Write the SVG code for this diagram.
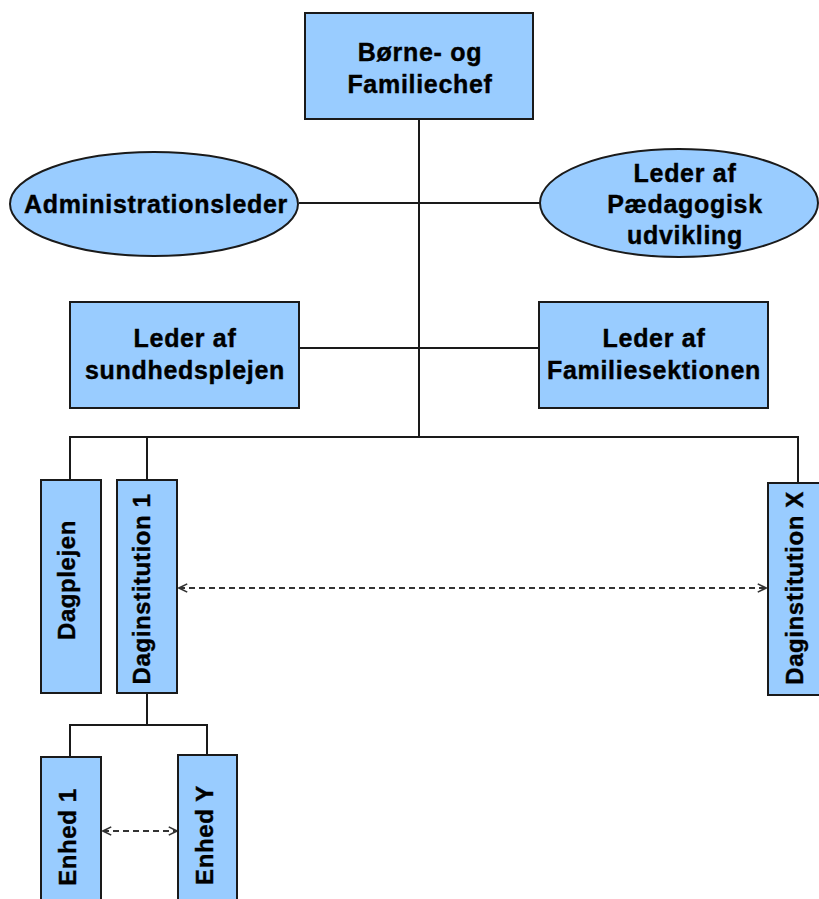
<svg xmlns="http://www.w3.org/2000/svg" width="819" height="899" viewBox="0 0 819 899">
<style>
.box{fill:#99CCFF;stroke:#1a1a1a;stroke-width:2}
.t{font-family:"Liberation Sans",Arial,sans-serif;font-weight:bold;font-size:25px;letter-spacing:0.7px;fill:#000;stroke:#000;stroke-width:0.4;text-anchor:middle}
.v{font-size:24px;letter-spacing:0.6px}
.ln{fill:none;stroke:#1a1a1a;stroke-width:2}
.dash{fill:none;stroke:#333;stroke-width:2;stroke-dasharray:6 4}
</style>
<defs>
<marker id="ah" viewBox="0 0 12 12" refX="11" refY="6" markerWidth="11" markerHeight="11" markerUnits="userSpaceOnUse" orient="auto-start-reverse">
<path d="M2,1.5 L11,6 L2,10.5" fill="none" stroke="#333" stroke-width="1.8"/>
</marker>
</defs>
<rect width="819" height="899" fill="#fff"/>
<g id="connectors">
<path class="ln" d="M419,119 V437"/>
<path class="ln" d="M299,203 H540"/>
<path class="ln" d="M299,348 H539"/>
<path class="ln" d="M70,480 V437 H798 V483"/>
<path class="ln" d="M147,437 V480"/>
<path class="ln" d="M147,693 V725"/>
<path class="ln" d="M70,757 V725 H207 V755"/>
<path class="dash" d="M179,588 H766" marker-start="url(#ah)" marker-end="url(#ah)"/>
<path class="dash" d="M103,831 H177" marker-start="url(#ah)" marker-end="url(#ah)"/>
</g>
<g id="chef">
<rect class="box" x="305" y="13" width="228" height="106"/>
<text class="t" x="420" y="61">Børne- og</text>
<text class="t" x="420" y="93">Familiechef</text>
</g>
<g id="admin">
<ellipse class="box" cx="154" cy="204" rx="144" ry="52"/>
<text class="t" x="156" y="213">Administrationsleder</text>
</g>
<g id="paedagogisk">
<ellipse class="box" cx="679" cy="203" rx="139" ry="54"/>
<text class="t" x="685" y="182">Leder af</text>
<text class="t" x="685" y="213">Pædagogisk</text>
<text class="t" x="685" y="244">udvikling</text>
</g>
<g id="sundhedsplejen">
<rect class="box" x="70" y="302" width="229" height="106"/>
<text class="t" x="185" y="347">Leder af</text>
<text class="t" x="185" y="379">sundhedsplejen</text>
</g>
<g id="familiesektionen">
<rect class="box" x="539" y="302" width="229" height="106"/>
<text class="t" x="654" y="347">Leder af</text>
<text class="t" x="654" y="379">Familiesektionen</text>
</g>
<g id="dagplejen">
<rect class="box" x="41" y="480" width="60" height="213"/>
<text class="t v" transform="translate(75,580) rotate(-90)">Dagplejen</text>
</g>
<g id="daginstitution1">
<rect class="box" x="117" y="480" width="60" height="213"/>
<text class="t v" transform="translate(150,589) rotate(-90)">Daginstitution 1</text>
</g>
<g id="daginstitutionX">
<rect class="box" x="768" y="483" width="60" height="212"/>
<text class="t v" transform="translate(803,588) rotate(-90)">Daginstitution X</text>
</g>
<g id="enhed1">
<rect class="box" x="41" y="757" width="60" height="170"/>
<text class="t v" transform="translate(76,837) rotate(-90)">Enhed 1</text>
</g>
<g id="enhedY">
<rect class="box" x="178" y="755" width="59" height="172"/>
<text class="t v" transform="translate(213,835) rotate(-90)">Enhed Y</text>
</g>
</svg>
